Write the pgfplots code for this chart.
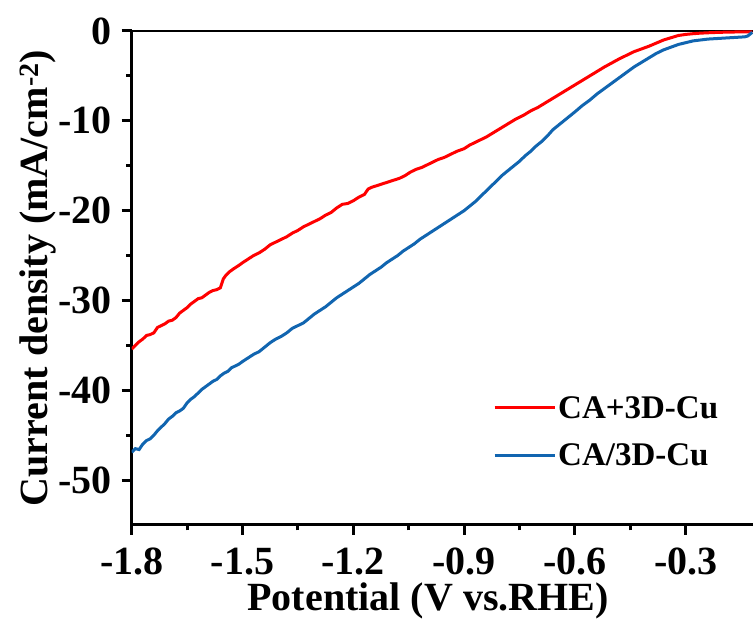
\documentclass[border=0pt]{standalone}
\usepackage{fontspec}
\setmainfont{Liberation Serif}
\usepackage{pgfplots}
\pgfplotsset{compat=1.18}
\definecolor{myred}{RGB}{255,0,0}
\definecolor{myblue}{RGB}{17,101,176}
\begin{document}
\begin{tikzpicture}
\begin{axis}[
 name=ax,
 scale only axis, width=621.3pt, height=494pt,
 xmin=-1.8, xmax=-0.118, ymin=-55, ymax=0,
 axis x line*=bottom, axis y line*=left,
 xtick={-1.8,-1.5,-1.2,-0.9,-0.6,-0.3},
 ytick={-50,-40,-30,-20,-10,0},
 minor x tick num=1, minor y tick num=1,
 tick align=outside,
 major tick length=10pt, minor tick length=5.5pt,
 tick style={black, line width=3pt},
 axis line style={black, line width=3pt},
 /pgf/number format/assume math mode=true,
 tick label style={font=\fontsize{40}{40}\selectfont\bfseries, inner sep=0pt},
 xticklabel style={/pgf/number format/.cd, fixed, fixed zerofill, precision=1},
 xticklabel shift=13pt,
 yticklabel shift=10pt,
 xlabel={Potential (V vs.RHE)},
 xlabel style={font=\fontsize{40}{40}\selectfont\bfseries, at={(axis description cs:0.477,0)}, anchor=north, inner sep=0pt, yshift=-58pt},
 ylabel={Current density (mA/cm\textsuperscript{-2})},
 ylabel style={font=\fontsize{40}{40}\selectfont\bfseries, at={(axis description cs:-0.1218,0.5)}, anchor=south, inner sep=0pt},
 legend cell align=left,
 legend image code/.code={\draw[#1, line width=3pt] (0pt,0pt) -- (60pt,0pt);},
 legend style={draw=none, fill=none, at={(axis description cs:0.5815,0.265)}, anchor=north west, font=\fontsize{33}{33}\selectfont\bfseries, inner sep=0pt, row sep=20pt},
 clip=true,
]
\draw[black, line width=3pt] (rel axis cs:0,1) -- (rel axis cs:1,1);
\addplot[myred, line width=3pt, mark=none] coordinates {
(-1.800,-35.4) (-1.790,-35.0) (-1.780,-34.6) (-1.770,-34.3) (-1.760,-33.9) (-1.750,-33.8)
(-1.740,-33.6) (-1.730,-33.0) (-1.720,-32.8) (-1.710,-32.6) (-1.700,-32.3) (-1.690,-32.2)
(-1.680,-31.9) (-1.670,-31.4) (-1.660,-31.1) (-1.650,-30.8) (-1.640,-30.4) (-1.630,-30.1)
(-1.620,-29.8) (-1.610,-29.7) (-1.600,-29.4) (-1.590,-29.1) (-1.580,-28.9) (-1.570,-28.8)
(-1.560,-28.6) (-1.552,-27.6) (-1.545,-27.2) (-1.535,-26.8) (-1.525,-26.5) (-1.510,-26.1)
(-1.500,-25.8) (-1.485,-25.4) (-1.470,-25.0) (-1.455,-24.7) (-1.440,-24.3) (-1.425,-23.8)
(-1.410,-23.5) (-1.395,-23.2) (-1.380,-22.9) (-1.365,-22.5) (-1.350,-22.2) (-1.335,-21.8)
(-1.320,-21.5) (-1.305,-21.2) (-1.290,-20.9) (-1.275,-20.5) (-1.260,-20.2) (-1.245,-19.7)
(-1.230,-19.3) (-1.215,-19.2) (-1.200,-18.9) (-1.185,-18.5) (-1.170,-18.2) (-1.160,-17.6)
(-1.150,-17.4) (-1.135,-17.2) (-1.120,-17.0) (-1.105,-16.8) (-1.090,-16.6) (-1.075,-16.4)
(-1.060,-16.1) (-1.045,-15.7) (-1.030,-15.4) (-1.015,-15.2) (-1.000,-14.9) (-0.985,-14.6)
(-0.970,-14.3) (-0.955,-14.1) (-0.940,-13.8) (-0.920,-13.4) (-0.900,-13.1) (-0.885,-12.7)
(-0.870,-12.4) (-0.855,-12.1) (-0.840,-11.8) (-0.820,-11.3) (-0.800,-10.8) (-0.780,-10.3)
(-0.760,-9.8) (-0.740,-9.4) (-0.720,-8.9) (-0.700,-8.5) (-0.680,-8.0) (-0.660,-7.5)
(-0.640,-7.0) (-0.620,-6.5) (-0.600,-6.0) (-0.580,-5.5) (-0.560,-5.0) (-0.540,-4.5)
(-0.520,-4.0) (-0.500,-3.55) (-0.480,-3.1) (-0.460,-2.7) (-0.440,-2.3) (-0.420,-2.0)
(-0.400,-1.7) (-0.380,-1.35) (-0.360,-1.0) (-0.340,-0.75) (-0.320,-0.5) (-0.300,-0.38)
(-0.280,-0.3) (-0.260,-0.24) (-0.240,-0.2) (-0.210,-0.15) (-0.180,-0.12) (-0.150,-0.1)
(-0.120,-0.1)
};
\addlegendentry{CA+3D-Cu}
\addplot[myblue, line width=3pt, mark=none] coordinates {
(-1.800,-46.9) (-1.790,-46.5) (-1.780,-46.6) (-1.770,-46.0) (-1.760,-45.6) (-1.750,-45.4)
(-1.740,-45.0) (-1.730,-44.5) (-1.720,-44.1) (-1.710,-43.7) (-1.700,-43.2) (-1.690,-42.9)
(-1.680,-42.5) (-1.670,-42.3) (-1.660,-42.0) (-1.650,-41.4) (-1.640,-41.0) (-1.630,-40.7)
(-1.620,-40.3) (-1.610,-39.9) (-1.600,-39.6) (-1.590,-39.3) (-1.580,-39.0) (-1.570,-38.8)
(-1.560,-38.4) (-1.550,-38.1) (-1.540,-37.9) (-1.530,-37.5) (-1.520,-37.3) (-1.510,-37.1)
(-1.500,-36.8) (-1.485,-36.4) (-1.470,-36.0) (-1.455,-35.7) (-1.440,-35.2) (-1.425,-34.7)
(-1.410,-34.3) (-1.395,-34.0) (-1.380,-33.6) (-1.365,-33.1) (-1.350,-32.8) (-1.335,-32.5)
(-1.320,-32.0) (-1.305,-31.5) (-1.290,-31.1) (-1.275,-30.7) (-1.260,-30.2) (-1.245,-29.7)
(-1.230,-29.3) (-1.215,-28.9) (-1.200,-28.5) (-1.185,-28.1) (-1.170,-27.6) (-1.155,-27.1)
(-1.140,-26.7) (-1.125,-26.3) (-1.110,-25.8) (-1.095,-25.4) (-1.080,-25.0) (-1.065,-24.5)
(-1.050,-24.1) (-1.035,-23.7) (-1.020,-23.2) (-1.005,-22.8) (-0.990,-22.4) (-0.975,-22.0)
(-0.960,-21.6) (-0.945,-21.2) (-0.930,-20.8) (-0.915,-20.4) (-0.900,-20.0) (-0.885,-19.5)
(-0.870,-19.0) (-0.855,-18.4) (-0.840,-17.8) (-0.825,-17.2) (-0.810,-16.6) (-0.795,-16.0)
(-0.780,-15.5) (-0.765,-15.0) (-0.750,-14.5) (-0.735,-13.9) (-0.720,-13.4) (-0.705,-12.8)
(-0.690,-12.3) (-0.675,-11.7) (-0.660,-11.0) (-0.645,-10.5) (-0.630,-10.0) (-0.615,-9.5)
(-0.600,-9.0) (-0.580,-8.3) (-0.560,-7.7) (-0.540,-7.0) (-0.520,-6.4) (-0.500,-5.8)
(-0.480,-5.2) (-0.460,-4.6) (-0.440,-4.0) (-0.420,-3.5) (-0.400,-3.0) (-0.380,-2.5)
(-0.360,-2.1) (-0.340,-1.8) (-0.320,-1.5) (-0.300,-1.3) (-0.280,-1.1) (-0.260,-1.0)
(-0.240,-0.9) (-0.220,-0.85) (-0.200,-0.8) (-0.180,-0.75) (-0.160,-0.7) (-0.140,-0.65)
(-0.132,-0.55) (-0.126,-0.35) (-0.120,-0.15)
};
\addlegendentry{CA/3D-Cu}
\end{axis}
\pgfresetboundingbox
\path ([shift={(-131.7pt,-98pt)}]ax.south west) rectangle ([shift={(621.3pt,525pt)}]ax.south west);
\end{tikzpicture}
\end{document}
